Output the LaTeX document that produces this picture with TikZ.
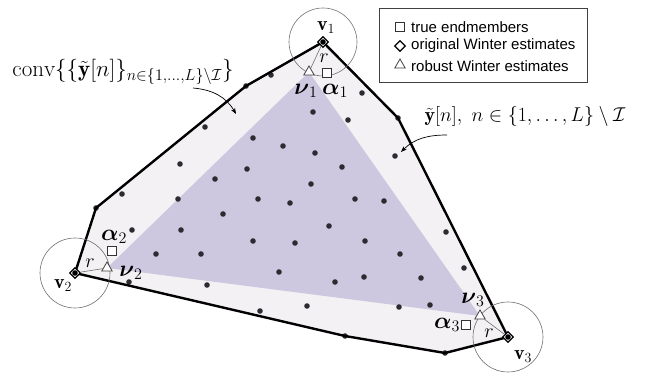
\RequirePackage{fix-cm}
\documentclass[tikz,border=0pt]{standalone}
\usepackage{amsmath,amssymb}
\usepackage{fontspec}
\setsansfont{Liberation Sans}
\usepackage{tikz}
\usetikzlibrary{arrows.meta,shapes.geometric,calc}
\definecolor{hullFill}{HTML}{F4F1F4}
\definecolor{simpFill}{HTML}{CDC8E0}
\definecolor{dotGray}{HTML}{2B2B30}
\definecolor{rimGray}{HTML}{707070}

\begin{document}
\begin{tikzpicture}[x=1pt,y=-1pt,
  font=\fontsize{20}{24}\selectfont,
  sample/.style={circle, fill=dotGray, inner sep=0pt, minimum size=5.6pt},
  hull/.style={draw=black, line width=2.4pt, line join=round},
  ball/.style={draw=rimGray, line width=0.6pt},
  endm/.style={draw=black!80, fill=white, line width=0.8pt, inner sep=0pt, minimum size=9pt},
  orig/.style={diamond, draw=black, fill=white, line width=1.1pt, inner sep=0pt, minimum size=11pt},
  rob/.style={regular polygon, regular polygon sides=3, draw=black!75, fill=white,
    line width=0.8pt, inner sep=0pt, minimum size=12pt},
  lbl/.style={inner sep=1pt},
  est/.style={inner sep=1pt, font=\fontsize{23}{27}\selectfont},
  legtxt/.style={anchor=west, inner sep=0pt, font=\sffamily\fontsize{15}{17}\selectfont},
  arr/.style={-{Stealth[length=6pt,width=4.5pt]}, line width=0.7pt},
]
\useasboundingbox (0,0) rectangle (649,374);

% hull vertices and the robust estimates
\coordinate (p1) at (323,42);
\coordinate (p2) at (75,273);
\coordinate (p3) at (508,337);
\coordinate (q1) at (309,72);
\coordinate (q2) at (107,268);
\coordinate (q3) at (480,316);

\fill[hullFill] (p1) -- (398,118) -- (p3) -- (445,353) -- (345,336) -- (p2) -- (96,208) -- (246,86) -- cycle;
\fill[simpFill] (q1) -- (q2) -- (q3) -- cycle;

\foreach \p [count=\i] in {(271,75),(246,86),(362,93),(313,112),(348,120),(398,118),
  (205,127),(253,138),(283,146),(315,153),(395,156),(180,164),(247,169),(342,167),
  (215,179),(311,184),(122,194),(178,199),(258,199),(290,203),(355,199),(384,201),
  (96,208),(223,214),(329,226),(446,232),(132,230),(181,230),(253,241),(295,243),
  (365,241),(156,254),(201,254),(400,254),(464,268),(279,272),(364,277),(335,282),
  (421,278),(129,282),(207,285),(307,306),(260,311),(399,307),(430,305),(345,336),(445,353)}
  \node[sample] (y\i) at \p {};

\draw[hull] (p1) -- (398,118) -- (p3) -- (445,353) -- (345,336) -- (p2) -- (96,208) -- (246,86) -- cycle;

\draw[ball] (p1) circle (34);
\draw[ball] (p2) circle (35);
\draw[ball] (p3) circle (35);

\node[orig] (v1) at (p1) {};
\node[orig] (v2) at (p2) {};
\node[orig] (v3) at (p3) {};
\foreach \v in {p1,p2,p3} \fill[black] (\v) circle (2.8);

\node[rob] (n1) at (q1) {};
\node[rob] (n2) at (q2) {};
\node[rob] (n3) at (q3) {};
\node[endm] (a1) at (327,73) {};
\node[endm] (a2) at (112,251) {};
\node[endm] (a3) at (466,325) {};

\draw[ball] (v1) -- (n1);
\draw[ball] (v2) -- (n2);
\draw[ball] (v3) -- (n3);

% labels
\node[lbl] (lv1) at (326,28) {$\mathbf{v}_1$};
\node[lbl] (lv2) at (63,286) {$\mathbf{v}_2$};
\node[lbl] (lv3) at (523,357) {$\mathbf{v}_3$};
\node[est] (ln1) at (306,91) {$\boldsymbol{\nu}_1$};
\node[est] (la1) at (335,91) {$\boldsymbol{\alpha}_1$};
\node[est] (ln2) at (131,273) {$\boldsymbol{\nu}_2$};
\node[est] (la2) at (114,237) {$\boldsymbol{\alpha}_2$};
\node[est] (ln3) at (473,300) {$\boldsymbol{\nu}_3$};
\node[est] (la3) at (447,325) {$\boldsymbol{\alpha}_3$};
\node[lbl] (r1) at (324,58) {$r$};
\node[lbl] (r2) at (90,263) {$r$};
\node[lbl] (r3) at (489,333) {$r$};

\node[lbl, font=\fontsize{23}{27}\selectfont] (cv) at (123,72) {$\mathrm{conv}\{\{\tilde{\mathbf{y}}[n]\}_{n\in\{1,\ldots,L\}\backslash\mathcal{I}}\}$};
\node[lbl] (ys) at (525,117) {$\tilde{\mathbf{y}}[n],\ n\in\{1,\ldots,L\}\setminus\mathcal{I}$};

\coordinate (cvfrom) at (193,88);
\coordinate (cvto) at (236,114);
\coordinate (ysfrom) at (447,135);
\coordinate (ysto) at (401,152);
\draw[arr] (cvfrom) to[out=-5,in=120] (cvto);
\draw[arr] (ysfrom) to[out=180,in=45] (ysto);

% legend
\draw[line width=0.8pt, draw=black!75] (379,8) rectangle (587,82);
\node[endm] (k1) at (400,27) {};
\node[orig] (k2) at (400,46) {};
\node[rob] (k3) at (400,65) {};
\node[legtxt] (t1) at (411,27) {true endmembers};
\node[legtxt] (t2) at (411,46) {original Winter estimates};
\node[legtxt] (t3) at (411,66) {robust Winter estimates};
\end{tikzpicture}
\end{document}
